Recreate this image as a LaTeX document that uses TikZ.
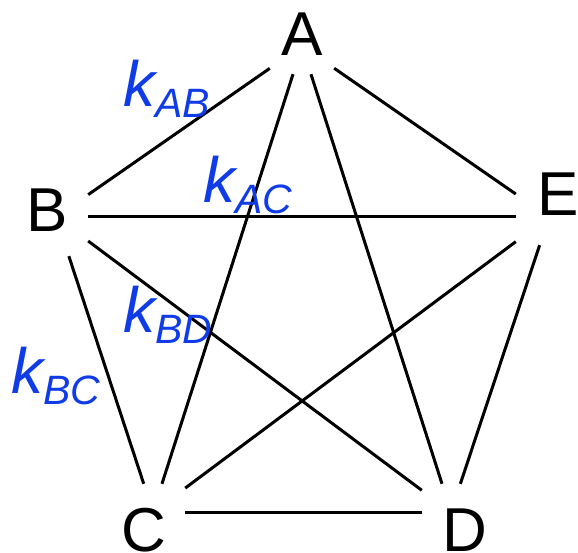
\documentclass[tikz,border=0pt]{standalone}
\usepackage{fontspec}
\setmainfont{Liberation Sans}
\usepackage{xcolor}
\usepackage{tikz}
\definecolor{kblue}{HTML}{0F3CE6}
\newcommand{\rate}[1]{{\fontsize{64}{64}\selectfont\itshape k}\raisebox{-11pt}{\fontsize{41}{41}\selectfont\itshape #1}}
\tikzset{
  vtx/.style={rectangle, inner sep=0pt, minimum width=64pt, minimum height=56pt},
  letter/.style={inner sep=0pt, font=\fontsize{62}{62}\selectfont},
  ratelabel/.style={inner sep=0pt, anchor=base west, text=kblue},
  link/.style={line width=3pt}
}

\begin{document}
\begin{tikzpicture}[x=1pt, y=-1pt]
  \useasboundingbox (0,0) rectangle (578,553);
  \node[vtx] (A) at (302,46) {};
  \node[vtx, minimum height=78pt] (B) at (56,217) {};
  \node[vtx] (C) at (153,512) {};
  \node[vtx, minimum width=58pt] (D) at (451,512) {};
  \node[vtx, minimum width=66pt] (E) at (549,217) {};
  \foreach \u/\v in {A/B, A/C, A/D, A/E, B/C, B/D, B/E, C/D, C/E, D/E}
    \draw[link] (\u) -- (\v);
  \node[letter] (lA) at (302,34.5) {A};
  \node[letter] (lB) at (47,210) {B};
  \node[letter] (lC) at (144,530) {C};
  \node[letter] (lD) at (465,530) {D};
  \node[letter] (lE) at (558,194.5) {E};
  \node[ratelabel] (kAB) at (123,107) {\rate{AB}};
  \node[ratelabel] (kAC) at (203,203) {\rate{AC}};
  \node[ratelabel] (kBD) at (123,332) {\rate{BD}};
  \node[ratelabel] (kBC) at (11,393) {\rate{BC}};
\end{tikzpicture}
\end{document}
